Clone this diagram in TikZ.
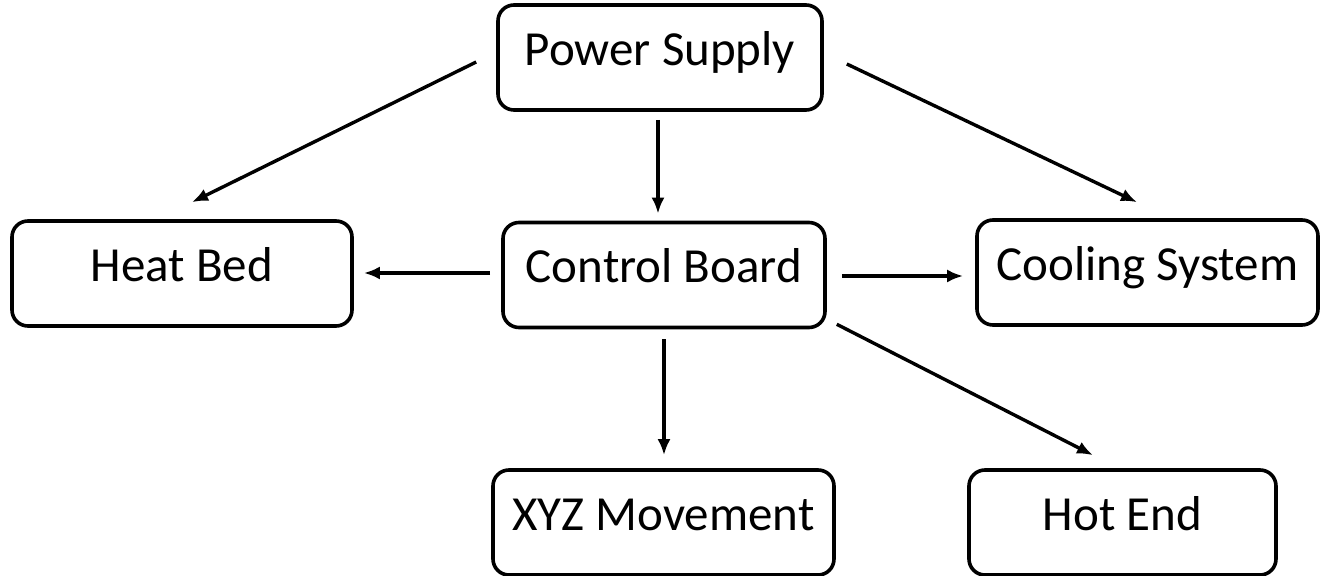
\documentclass[tikz,border=0pt]{standalone}
\usepackage{fontspec}
\setmainfont{Carlito}
\usepackage{tikz}
\usetikzlibrary{arrows.meta}

\begin{document}
\begin{tikzpicture}[x=0.5pt,y=-0.5pt,
    box/.style={draw, line width=1.8pt, rounded corners=8pt, align=center,
        minimum height=52.5pt, text height=18pt, text depth=10pt,
        font=\fontsize{24.5}{29}\selectfont},
    arr/.style={line width=1.7pt, -{Latex[length=8pt,width=6.5pt]}}]
    \useasboundingbox (0,0) rectangle (1324,576);
    % Boxes
    \node[box, minimum width=162pt] (power) at (660,57.5) {Power Supply};
    \node[box, minimum width=170pt] (heat) at (182,273.5) {Heat Bed};
    \node[box, minimum width=161pt] (control) at (664,275) {Control Board};
    \node[box, minimum width=170.5pt] (cool) at (1147.5,272.5) {Cooling System};
    \node[box, minimum width=170.5pt] (xyz) at (663.5,522.5) {XYZ Movement};
    \node[box, minimum width=153.5pt] (hot) at (1122.5,522.5) {Hot End};
    % Arrows
    \draw[arr] ([xshift=-10pt,yshift=-2.25pt]power.west) -- ([xshift=5pt,yshift=8.5pt]heat.north);
    \draw[arr] ([xshift=-1pt,yshift=-4pt]power.south) -- ([xshift=-3pt,yshift=3.5pt]control.north);
    \draw[arr] ([xshift=11.5pt,yshift=-3.25pt]power.east) -- ([xshift=-5.25pt,yshift=8pt]cool.north);
    \draw[arr] ([xshift=-5.5pt,yshift=1pt]control.west) -- ([xshift=5pt,yshift=0.25pt]heat.east);
    \draw[arr] ([xshift=7.5pt,yshift=-0.5pt]control.east) -- ([xshift=-6pt,yshift=-1.75pt]cool.west);
    \draw[arr] ([yshift=-5pt]control.south) -- ([xshift=0.25pt,yshift=6.5pt]xyz.north);
    \draw[arr] ([xshift=5pt,yshift=2.5pt]control.south east) -- ([xshift=-14.75pt,yshift=6.5pt]hot.north);
\end{tikzpicture}
\end{document}
